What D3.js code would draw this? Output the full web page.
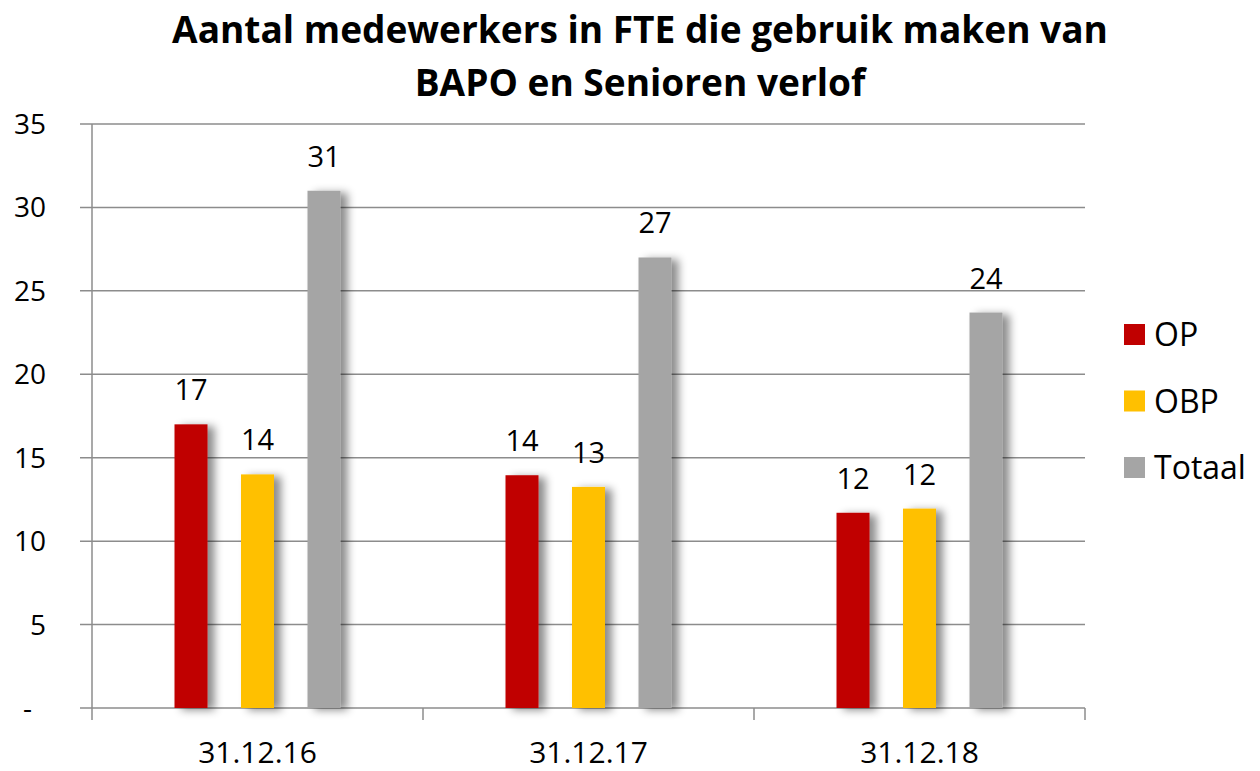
<!DOCTYPE html>
<html lang="nl">
<head>
<meta charset="UTF-8">
<title>Aantal medewerkers in FTE</title>
<script src="https://cdn.jsdelivr.net/npm/d3@7"></script>
<style>
  body { margin: 0; background: #fff; }
  text { font-family: "Open Sans", "Noto Sans", sans-serif; fill: #000; }
</style>
</head>
<body>
<script>
// data
const categories = ["31.12.16", "31.12.17", "31.12.18"];
const seriesNames = ["OP", "OBP", "Totaal"];
const op = [17.0, 13.95, 11.7];
const obp = [14.0, 13.25, 11.95];
const totaal = [31.0, 27.0, 23.7];
const yTicks = [0, 5, 10, 15, 20, 25, 30, 35];
const colors = ["#C00000", "#FFC000", "#A5A5A5"];

const W = 1260, H = 771;
const plotLeft = 92, plotRight = 1085, plotTop = 124, plotBottom = 708;

const svg = d3.select("body").append("svg")
  .attr("width", W).attr("height", H);

// schaduw onder de balken
const defs = svg.append("defs");
defs.append("filter").attr("id", "shadow")
  .attr("x", "-40%").attr("y", "-10%").attr("width", "200%").attr("height", "120%")
  .append("feDropShadow")
  .attr("dx", 7).attr("dy", 2).attr("stdDeviation", 4)
  .attr("flood-color", "#000").attr("flood-opacity", 0.45);

const x = d3.scaleBand().domain(categories).range([plotLeft, plotRight]);
const xs = d3.scalePoint().domain(seriesNames).range([-66.5, 66.5]);
const y = d3.scaleLinear().domain([0, 35]).range([plotBottom, plotTop]);

// gridlijnen
svg.append("g").selectAll("line").data(yTicks).join("line")
  .attr("x1", plotLeft - 12).attr("x2", plotRight)
  .attr("y1", d => y(d)).attr("y2", d => y(d))
  .attr("stroke", "#8c8c8c").attr("stroke-width", 1.5);

// y-as
svg.append("line")
  .attr("x1", plotLeft).attr("x2", plotLeft).attr("y1", plotTop).attr("y2", plotBottom)
  .attr("stroke", "#8c8c8c").attr("stroke-width", 1.5);

// x-as ticks
const xEdges = categories.map(c => x(c)).concat([plotRight]);
svg.append("g").selectAll("line").data(xEdges).join("line")
  .attr("x1", d => d).attr("x2", d => d).attr("y1", plotBottom).attr("y2", plotBottom + 12)
  .attr("stroke", "#8c8c8c").attr("stroke-width", 1.5);

// y-labels
svg.append("g").selectAll("text").data(yTicks).join("text")
  .attr("x", d => d === 0 ? 32 : 46).attr("y", d => y(d) + 10)
  .attr("text-anchor", "end").attr("font-size", 28)
  .text(d => d === 0 ? "-" : d);

// x-labels
svg.append("g").selectAll("text").data(categories).join("text")
  .attr("x", d => x(d) + x.bandwidth() / 2).attr("y", 763)
  .attr("text-anchor", "middle").attr("font-size", 30)
  .text(d => d);

// balken
const series = [op, obp, totaal];
const barW = 33;
const bars = [];
series.forEach((vals, si) => {
  vals.forEach((v, ci) => bars.push({ s: si, c: categories[ci], v: v }));
});

svg.append("g").selectAll("rect").data(bars).join("rect")
  .attr("x", d => x(d.c) + x.bandwidth() / 2 + xs(seriesNames[d.s]) - barW / 2)
  .attr("y", d => y(d.v))
  .attr("width", barW)
  .attr("height", d => y(0) - y(d.v))
  .attr("fill", d => colors[d.s])
  .attr("filter", "url(#shadow)");

// waardelabels
svg.append("g").selectAll("text").data(bars).join("text")
  .attr("x", d => x(d.c) + x.bandwidth() / 2 + xs(seriesNames[d.s]))
  .attr("y", d => y(d.v) - 24)
  .attr("text-anchor", "middle").attr("font-size", 29)
  .text(d => Math.round(d.v));

// legenda
const lg = svg.append("g").selectAll("g").data(seriesNames).join("g")
  .attr("transform", (d, i) => `translate(1124, ${324 + i * 66.5})`);
lg.append("rect").attr("width", 21).attr("height", 21).attr("fill", (d, i) => colors[i]);
lg.append("text").attr("x", 30).attr("y", 22).attr("font-size", 32).text(d => d);

// titel
const title = ["Aantal medewerkers in FTE die gebruik maken van", "BAPO en Senioren verlof"];
const tt = svg.append("g").selectAll("text").data(title).join("text")
  .attr("x", 640).attr("y", (d, i) => 43 + i * 53)
  .attr("text-anchor", "middle").attr("font-weight", "bold")
  .attr("font-size", 36)
  .text(d => d);
const w0 = tt.nodes()[0].getComputedTextLength();
const fs = 36 * 936 / w0;
tt.attr("font-size", fs);
</script>
</body>
</html>
